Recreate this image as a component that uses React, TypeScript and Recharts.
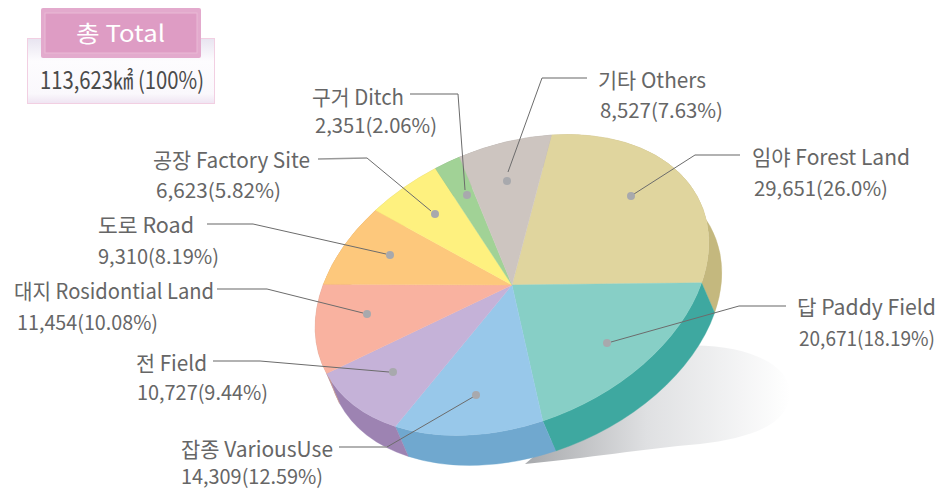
import { Pie, PieChart } from "recharts";

const names = [
  "임야 Forest Land",
  "답 Paddy Field",
  "잡종 VariousUse",
  "전 Field",
  "대지 Rosidontial Land",
  "도로 Road",
  "공장 Factory Site",
  "구거 Ditch",
  "기타 Others",
];
const values = [29651, 20671, 14309, 10727, 11454, 9310, 6623, 2351, 8527];
const valueLabels = [
  "29,651(26.0%)",
  "20,671(18.19%)",
  "14,309(12.59%)",
  "10,727(9.44%)",
  "11,454(10.08%)",
  "9,310(8.19%)",
  "6,623(5.82%)",
  "2,351(2.06%)",
  "8,527(7.63%)",
];
const topColors = ["#e0d59e", "#87cfc6", "#98c8ea", "#c5b2d8", "#f9b2a0", "#fdc87c", "#fef17f", "#a1d296", "#cdc5c0"];
const sideColors = ["#c4b87e", "#3ea8a0", "#70a8cf", "#9d83b2", "#c99a8c", "#d8a868", "#d8cc6c", "#86b07c", "#aca5a0"];

const totalTitle = "총 Total";
const totalValue = "113,623㎢ (100%)";

const W = 941;
const H = 491;
const CX = 512;
const CY = 285;
const RX = 205.6;
const RY = 138.2;
const TILT = -23;
const DEPTH = { x: 13, y: 30 };
const START = 62.5;

// [name x, name width, name baseline, value x, value width, value baseline]
const textBoxes = [
  [752, 158, 165, 754, 134, 196],
  [797, 139, 315, 799, 136, 346],
  [181, 152, 457, 181, 142, 484],
  [136, 71, 371, 137, 131, 400],
  [14, 200, 299, 17, 141, 330],
  [98, 96, 233, 98, 121, 264],
  [153, 157, 168, 156, 125, 198],
  [312, 92, 105, 315, 122, 133],
  [598, 108, 88, 600, 123, 118],
];
// label end, elbow, end on the slice, dot
const leaders = [
  [[740, 155], [695, 155], [634, 194], [631, 196]],
  [[786, 306], [739, 306], [611, 342], [607, 343]],
  [[339, 447], [387, 447], [473, 397], [476, 395]],
  [[213, 361], [260, 361], [389, 372], [393, 372]],
  [[217, 289], [267, 289], [363, 313], [367, 314]],
  [[207, 224], [253, 224], [386, 254], [390, 255]],
  [[318, 159], [367, 158], [431, 211], [435, 214]],
  [[410, 94], [458, 94], [465, 190], [467, 195]],
  [[587, 78], [542, 78], [508, 172], [507, 181]],
];

const table = names.map((name, i) => ({
  name,
  value: values[i],
  fill: topColors[i],
  side: sideColors[i],
}));

const FONT = '"Noto Sans CJK KR", "Noto Sans", sans-serif';

function rimPoint(angle: number, dx = 0, dy = 0) {
  const t = (-angle * Math.PI) / 180;
  const p = (TILT * Math.PI) / 180;
  const u = RX * Math.cos(t);
  const v = RY * Math.sin(t);
  return {
    x: CX + u * Math.cos(p) - v * Math.sin(p) + dx,
    y: CY + u * Math.sin(p) + v * Math.cos(p) + dy,
  };
}

function TopSlice(props: any) {
  const { startAngle, endAngle, payload } = props;
  const a = rimPoint(startAngle);
  const b = rimPoint(endAngle);
  const large = Math.abs(startAngle - endAngle) > 180 ? 1 : 0;
  const d = `M${CX} ${CY}L${a.x} ${a.y}A${RX} ${RY} ${TILT} ${large} 1 ${b.x} ${b.y}Z`;
  return <path d={d} fill={payload.fill} stroke={payload.fill} strokeWidth={0.4} />;
}

function SideSlice(props: any) {
  const { startAngle, endAngle, payload } = props;
  const a = rimPoint(startAngle);
  const b = rimPoint(endAngle);
  const a2 = rimPoint(startAngle, DEPTH.x, DEPTH.y);
  const b2 = rimPoint(endAngle, DEPTH.x, DEPTH.y);
  const large = Math.abs(startAngle - endAngle) > 180 ? 1 : 0;
  const d =
    `M${a.x} ${a.y}A${RX} ${RY} ${TILT} ${large} 1 ${b.x} ${b.y}` +
    `L${b2.x} ${b2.y}A${RX} ${RY} ${TILT} ${large} 0 ${a2.x} ${a2.y}Z`;
  return <path d={d} fill={payload.side} stroke={payload.side} strokeWidth={0.4} />;
}

function Shadow() {
  return (
    <svg width={W} height={H} style={{ position: "absolute", left: 0, top: 0 }}>
      <defs>
        <linearGradient id="shadowFill" gradientUnits="userSpaceOnUse" x1="530" y1="0" x2="790" y2="0">
          <stop offset="0%" stopColor="#a9abae" />
          <stop offset="45%" stopColor="#dfe0e2" />
          <stop offset="100%" stopColor="#ffffff" />
        </linearGradient>
      </defs>
      <path
        d="M525 464L600 400L680 346C745 342 790 365 790 392C790 425 750 438 700 444C640 449 590 458 525 464Z"
        fill="url(#shadowFill)"
      />
    </svg>
  );
}

function Overlay() {
  return (
    <svg width={W} height={H} style={{ position: "absolute", left: 0, top: 0 }} fontFamily={FONT}>
      <defs>
        <linearGradient id="totalBody" x1="0" y1="0" x2="0" y2="1">
          <stop offset="0%" stopColor="#e8e4f0" />
          <stop offset="35%" stopColor="#fdfcfe" />
          <stop offset="85%" stopColor="#faf8fc" />
          <stop offset="100%" stopColor="#efe4f2" />
        </linearGradient>
      </defs>
      <rect x={27.5} y={38.5} width={187} height={65} fill="url(#totalBody)" stroke="#f2cfe2" />
      <rect x={41} y={8} width={160} height={50} rx={2} fill="#e3aacd" />
      <rect x={45} y={13} width={152} height={40} fill="#de9cc4" stroke="#eab9d6" />
      <text x={76} y={42} fontSize={23} fill="#ffffff" textLength={89} lengthAdjust="spacingAndGlyphs">
        {totalTitle}
      </text>
      <text x={40} y={89} fontSize={24} fill="#4a4a4a" textLength={164} lengthAdjust="spacingAndGlyphs">
        {totalValue}
      </text>

      {leaders.map(([start, elbow, end, dot], i) => (
        <g key={names[i]}>
          <line x1={start[0]} y1={start[1]} x2={elbow[0]} y2={elbow[1]} stroke="#999" strokeWidth={1.3} />
          <line x1={elbow[0]} y1={elbow[1]} x2={end[0]} y2={end[1]} stroke="#6c6c6c" strokeWidth={1} />
          <circle cx={dot[0]} cy={dot[1]} r={4} fill="#a8a9ad" />
        </g>
      ))}

      {names.map((name, i) => {
        const [nx, nw, ny, vx, vw, vy] = textBoxes[i];
        return (
          <g key={name} fill="#666666">
            <text x={nx} y={ny} fontSize={21} textLength={nw} lengthAdjust="spacingAndGlyphs">
              {name}
            </text>
            <text x={vx} y={vy} fontSize={20} textLength={vw} lengthAdjust="spacingAndGlyphs">
              {valueLabels[i]}
            </text>
          </g>
        );
      })}
    </svg>
  );
}

export default function App() {
  return (
    <div style={{ position: "absolute", left: 0, top: 0, width: W, height: H, background: "#fff", overflow: "hidden" }}>
      <Shadow />
      <div style={{ position: "absolute", left: 0, top: 0 }}>
        <PieChart width={W} height={H} margin={{ top: 0, right: 0, bottom: 0, left: 0 }}>
          <Pie
            data={table}
            dataKey="value"
            cx={CX}
            cy={CY}
            outerRadius={RX}
            startAngle={START}
            endAngle={START - 360}
            stroke="none"
            shape={SideSlice}
            isAnimationActive={false}
          />
          <Pie
            data={table}
            dataKey="value"
            cx={CX}
            cy={CY}
            outerRadius={RX}
            startAngle={START}
            endAngle={START - 360}
            stroke="none"
            shape={TopSlice}
            isAnimationActive={false}
          />
        </PieChart>
      </div>
      <Overlay />
    </div>
  );
}
